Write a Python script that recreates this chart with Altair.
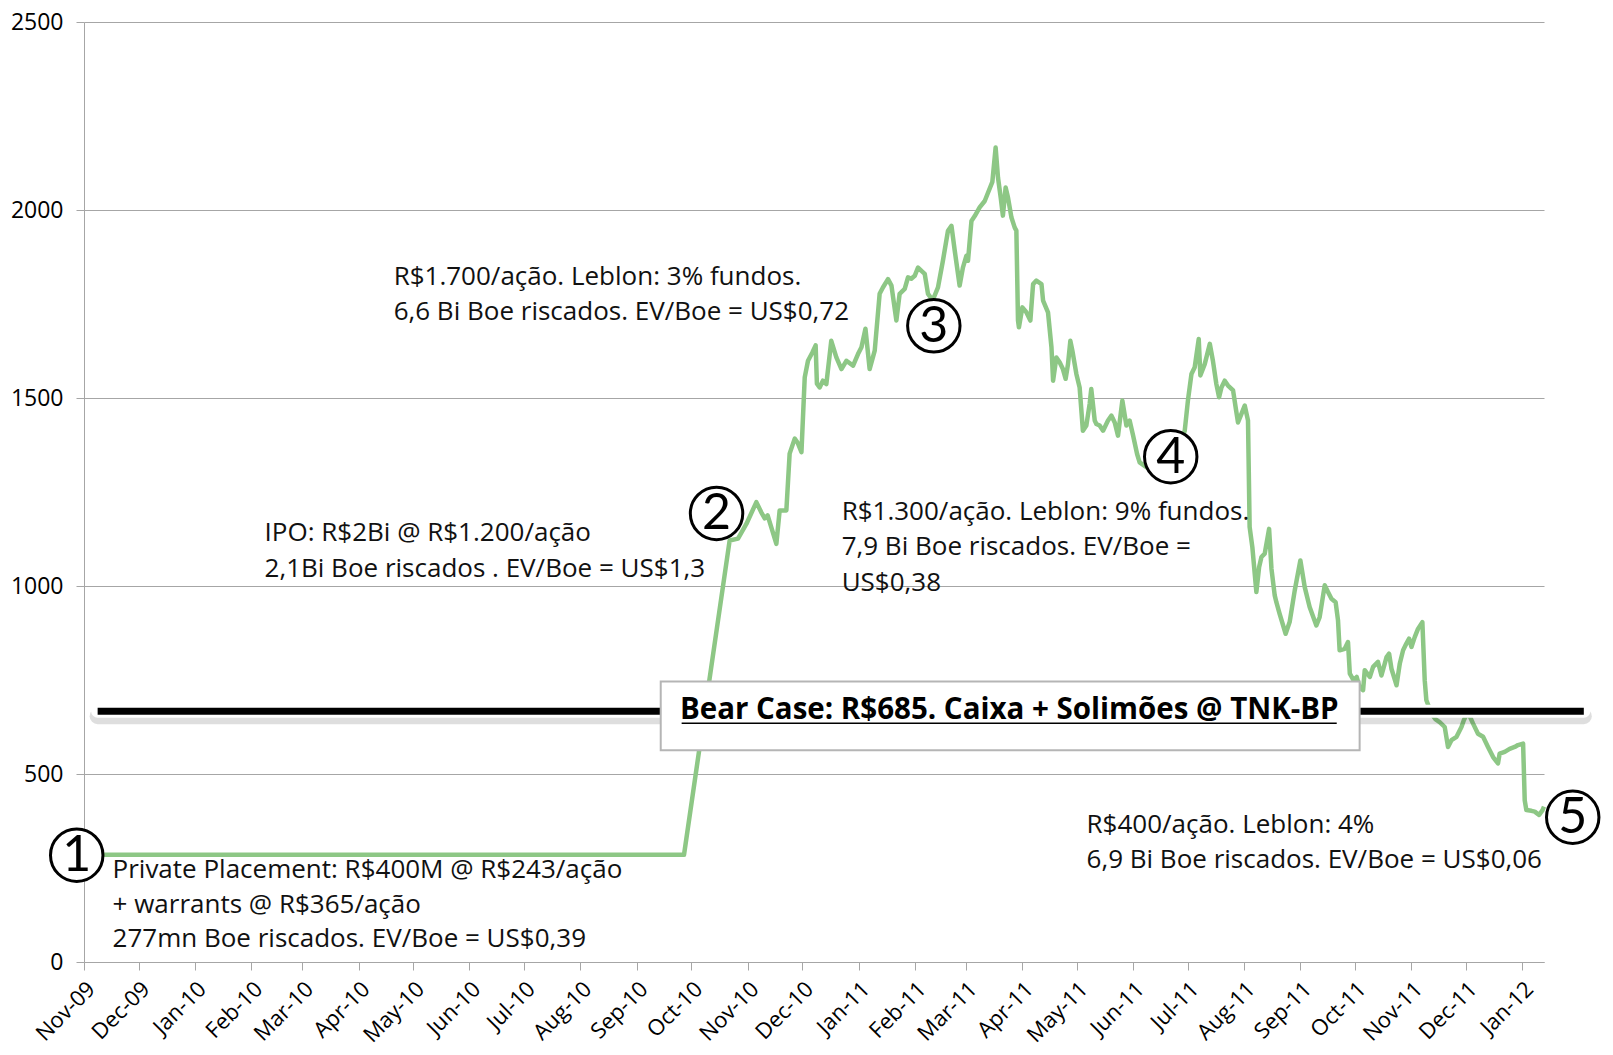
import altair as alt
import pandas as pd

# ---------------- data ----------------
START = "2009-11-01"  # day offsets below are counted from this date

day = [0, 330, 355.1, 359.7, 364.3, 369.8, 372.5, 374.4, 376, 380.8,
       382.6, 386.3, 388.1, 390.9, 392.5, 394.6, 396.4, 398.2, 400.6, 402.4,
       403.1, 404.6, 406.4, 408.3, 411, 413.8, 416.6, 419.3, 423, 425.7,
       427.6, 429.8, 432.1, 434.9, 437.6, 439.4, 442.2, 444.1, 446.8, 448.6,
       451.4, 453.2, 455, 456.9, 458.7, 460.6, 462.4, 464.2, 466.8, 469.7,
       472.4, 475.2, 477.1, 478.9, 481.6, 483.4, 485.3, 486.2, 488.1, 489.9,
       492.6, 495.4, 497.2, 499.6, 501.4, 502.7, 504.2, 505.4, 506.9, 508.2,
       510.1, 511.9, 512.8, 513.7, 514.2, 516.1, 518.3, 520.5, 522.0, 523.8,
       526.6, 527.5, 530.2, 532.1, 533.0, 534.8, 536.6, 538.4, 539.9, 541.2,
       542.5, 543.6, 545.8, 547.6, 549.4, 551.3, 553.1, 554.0, 555.9, 556.8,
       558.6, 560.5, 563.2, 565.1, 566.9, 568.7, 571.1, 573.3, 575.1, 577.0,
       579.2, 580.6, 586.1, 594.4, 601.5, 605.4, 607.2, 609.1, 610.9, 613.1,
       614.0, 616.4, 619.2, 620.9, 622.8, 624.3, 625.6, 627.4, 629.2, 632.0,
       633.4, 634.7, 636.6, 638.4, 640.2, 641.1, 642.6, 644.8, 646.3, 647.6,
       649.4, 651.8, 653.1, 654.9, 655.8, 657.6, 660.9, 663.1, 665.9, 669.0,
       671.4, 674.1, 677.8, 679.6, 682.4, 684.2, 686.1, 688.4, 689.7, 690.6,
       693.4, 695.2, 696.2, 698.3, 700.0, 701.6, 703.5, 704.4, 707.2, 709.0,
       711.7, 713.6, 716.4, 717.8, 719.1, 721.9, 723.7, 725.5, 727.3, 728.8,
       730.1, 731.9, 733.7, 736.1, 737.4, 738.3, 741.2, 743.4, 745.6, 748.4,
       750.2, 752.1, 754.9, 757.6, 758.9, 761.1, 764.0, 766.7, 769.5, 772.2,
       775.0, 777.7, 778.6, 781.4, 784.1, 786.9, 788.7, 791.5, 792.4, 793.3,
       796.1, 797.9, 800.3, 802.2, 803.0]

price = [285, 285, 1121, 1126, 1165, 1223, 1196, 1180, 1188, 1112,
         1201, 1201, 1352, 1392, 1381, 1356, 1555, 1599, 1621, 1640,
         1538, 1528, 1546, 1537, 1652, 1608, 1577, 1599, 1586, 1617,
         1635, 1684, 1577, 1626, 1777, 1794, 1816, 1799, 1706, 1777,
         1790, 1821, 1817, 1825, 1847, 1838, 1830, 1777, 1760, 1794,
         1865, 1945, 1958, 1892, 1799, 1847, 1878, 1865, 1971, 1984,
         2007, 2024, 2046, 2075, 2166, 2086, 2033, 1985, 2060, 2033,
         1980, 1953, 1945, 1706, 1688, 1741, 1728, 1706, 1803, 1812,
         1803, 1759, 1728, 1635, 1546, 1608, 1595, 1577, 1551, 1590,
         1652, 1626, 1564, 1528, 1413, 1427, 1484, 1524, 1440, 1431,
         1427, 1413, 1440, 1453, 1435, 1400, 1493, 1427, 1440, 1400,
         1351, 1329, 1310, 1330, 1360, 1413, 1495, 1564, 1582, 1657,
         1560, 1590, 1644, 1599, 1537, 1502, 1528, 1546, 1533, 1520,
         1475, 1435, 1458, 1480, 1440, 1157, 1103, 984, 1050, 1077,
         1086, 1152, 1046, 975, 957, 926, 873, 904, 988, 1068,
         997, 944, 895, 917, 1002, 984, 966, 957, 909, 829,
         833, 851, 767, 749, 758, 730, 723, 776, 758, 785,
         798, 762, 811, 820, 780, 736, 794, 829, 847, 860,
         838, 864, 886, 904, 749, 696, 660, 645, 638, 625,
         572, 590, 599, 625, 643, 665, 634, 607, 599, 572,
         545, 528, 554, 559, 567, 572, 577, 581, 430, 404,
         402, 400, 391, 404, 413]

# annotation lines
note_text = [
    "Private Placement: R$400M @ R$243/ação",
    "+ warrants @ R$365/ação",
    "277mn Boe riscados. EV/Boe = US$0,39",
    "IPO: R$2Bi @ R$1.200/ação",
    "2,1Bi Boe riscados . EV/Boe = US$1,3",
    "R$1.700/ação. Leblon: 3% fundos.",
    "6,6 Bi Boe riscados. EV/Boe = US$0,72",
    "R$1.300/ação. Leblon: 9% fundos.",
    "7,9 Bi Boe riscados. EV/Boe =",
    "US$0,38",
    "R$400/ação. Leblon: 4%",
    "6,9 Bi Boe riscados. EV/Boe = US$0,06",
]
note_day = [15.7, 15.7, 15.7, 99.3, 99.3, 170.3, 170.3, 416.7, 416.7, 416.7, 551.4, 551.4]
note_value = [244, 151, 61, 1140, 1044, 1823, 1730, 1198, 1103, 1007, 364, 271]

# circled milestone numbers
circle_label = ["1", "2", "3", "4", "5"]
circle_day = [-4, 347.9, 467.4, 597.7, 818.8]
circle_value = [284, 1193, 1692, 1344, 385]

# bear case line and box
bear_text = "Bear Case: R$685. Caixa + Solimões @ TNK-BP"
bear_level = 667
bear_line_day = [7.5, 824.9]
bear_box_day = [317.2, 701.6]
bear_box_value = [563, 746]
bear_text_day = 508.9
bear_text_value = 670
underline_day = [328.7, 689.0]
underline_value = 635

y_ticks = [0, 500, 1000, 1500, 2000, 2500]
x_end_day = 803.0

# ---------------- build ----------------
start = pd.Timestamp(START)


def to_date(d):
    return start + pd.to_timedelta(pd.Series(d, dtype=float), unit="D")


price_df = pd.DataFrame({"date": to_date(day), "price": price})
note_df = pd.DataFrame({"date": to_date(note_day), "price": note_value, "text": note_text})
circle_df = pd.DataFrame({"date": to_date(circle_day), "price": circle_value, "label": circle_label})
bl = to_date(bear_line_day)
bear_line_df = pd.DataFrame({"date": [bl[0]], "date2": [bl[1]], "price": [bear_level]})
bb = to_date(bear_box_day)
box_df = pd.DataFrame({"date": [bb[0]], "date2": [bb[1]],
                       "price": [bear_box_value[0]], "price2": [bear_box_value[1]]})
bear_text_df = pd.DataFrame({"date": to_date([bear_text_day]), "price": [bear_text_value], "text": [bear_text]})
ul = to_date(underline_day)
under_df = pd.DataFrame({"date": [ul[0]], "date2": [ul[1]], "price": [underline_value]})

end_date = to_date([x_end_day])[0]
month_ticks = []
y, m = 2009, 11
while (y, m) <= (2012, 1):
    month_ticks.append(alt.DateTime(year=y, month=m, date=1))
    m += 1
    if m > 12:
        m, y = 1, y + 1

xscale = alt.Scale(domain=[alt.DateTime(year=2009, month=11, date=1),
                           alt.DateTime(year=end_date.year, month=end_date.month, date=end_date.day,
                                        hours=end_date.hour)])
yscale = alt.Scale(domain=[0, 2500])

FONT = "Open Sans"
GRID = "#a6a6a6"

x_axis = alt.Axis(values=month_ticks, format="%b-%y", labelAngle=315, grid=False,
                  tickSize=8, tickColor=GRID, domainColor=GRID, labelFont=FONT, labelFontSize=22,
                  labelColor="#000", labelPadding=8, title=None, labelOverlap=False, labelBound=False,
                  labelFlush=False)
y_axis = alt.Axis(values=y_ticks, format="d", grid=True, gridColor=GRID, gridWidth=1.2, tickSize=8,
                  tickColor=GRID, domainColor=GRID, labelFont=FONT, labelFontSize=23, labelColor="#000",
                  labelPadding=13, title=None, labelFlush=False)


def X(field):
    return alt.X(field, type="temporal", scale=xscale, axis=x_axis)


def Y(field):
    return alt.Y(field, type="quantitative", scale=yscale, axis=y_axis)


line = alt.Chart(price_df).mark_line(color="#8dc785", strokeWidth=4.5, strokeJoin="round").encode(
    x=X("date"), y=Y("price"))

shadow = alt.Chart(bear_line_df).mark_rule(color="#000", opacity=0.13, strokeWidth=16, strokeCap="round",
                                           yOffset=5).encode(x=X("date"), x2="date2:T", y=Y("price"))
halo = alt.Chart(bear_line_df).mark_rule(color="#ffffff", strokeWidth=13, strokeCap="round").encode(
    x=X("date"), x2="date2:T", y=Y("price"))
bear_line = alt.Chart(bear_line_df).mark_rule(color="#000", strokeWidth=7).encode(
    x=X("date"), x2="date2:T", y=Y("price"))

box = alt.Chart(box_df).mark_rect(fill="white", stroke="#b5b5b5", strokeWidth=2).encode(
    x=X("date"), x2="date2:T", y=Y("price"), y2="price2:Q")
bear_label = alt.Chart(bear_text_df).mark_text(font=FONT, fontSize=29.5, fontWeight="bold", color="#000",
                                               align="center", baseline="middle").encode(
    x=X("date"), y=Y("price"), text="text:N")
underline = alt.Chart(under_df).mark_rule(color="#000", strokeWidth=1.5).encode(
    x=X("date"), x2="date2:T", y=Y("price"))

notes = alt.Chart(note_df).mark_text(font=FONT, fontSize=26, color="#111", align="left",
                                     baseline="middle").encode(
    x=X("date"), y=Y("price"), text="text:N")

circles = alt.Chart(circle_df).mark_point(shape="circle", size=2750, filled=False, fill="white",
                                          fillOpacity=1, stroke="#000", strokeWidth=3, opacity=1).encode(
    x=X("date"), y=Y("price"))
circle_text = alt.Chart(circle_df).mark_text(font="Lato", fontSize=50, color="#000", align="center",
                                             baseline="middle", dy=1).encode(
    x=X("date"), y=Y("price"), text="label:N")

chart = alt.layer(line, shadow, halo, bear_line, box, bear_label, underline, notes, circles,
                  circle_text).properties(
    width=1460, height=940,
    background="white",
    autosize=alt.AutoSizeParams(type="none"),
    padding={"left": 76, "top": 14, "right": 58, "bottom": 84},
).configure_view(stroke="transparent", strokeWidth=0)

chart.save("out.html", embed_options={"renderer": "svg", "actions": False})
